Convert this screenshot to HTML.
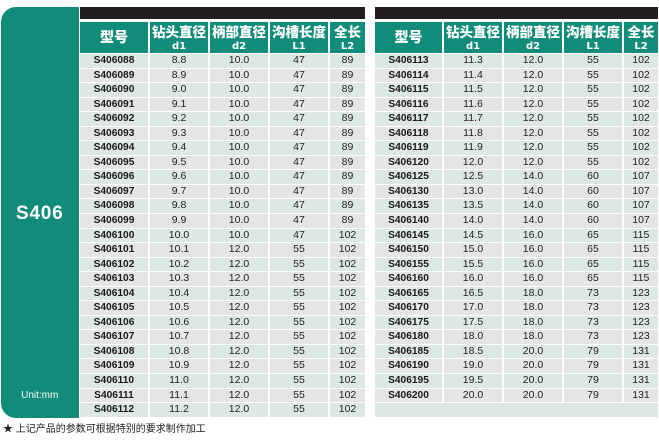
<!DOCTYPE html>
<html><head><meta charset="utf-8">
<style>
*{margin:0;padding:0;box-sizing:border-box}
html,body{width:659px;height:443px;background:#fff;overflow:hidden;position:relative;font-family:"Liberation Sans","Noto Sans CJK SC",sans-serif}
.panel{position:absolute;left:1px;top:7px;width:77.5px;height:411px;background:#128c7a;border-radius:15px 0 0 15px}
.panel .t{position:absolute;left:0;width:100%;top:196px;text-align:center;color:#fff;font-weight:bold;font-size:19px;letter-spacing:0.8px;line-height:22px}
.panel .u{position:absolute;left:0;width:100%;top:382px;text-align:center;color:#fff;font-size:10px;line-height:13px}
.bar{position:absolute;top:7.3px;height:12px;background:#221e1f}
.hdr{position:absolute;top:21.6px;height:31px;display:flex}
.hdr div{background:#128c7a;color:#fff;font-weight:bold;margin-right:2px;position:relative;height:31px;font-family:"Noto Sans CJK SC","WenQuanYi Zen Hei",sans-serif}
.hdr div:last-child{margin-right:0}
.hdr b{position:absolute;left:-5px;right:-5px;top:2px;text-align:center;font-size:13.5px;line-height:15px;display:block;white-space:nowrap}
.hdr i{position:absolute;left:0;right:0;top:20px;text-align:center;font-style:normal;font-size:10px;line-height:10px;display:block;font-family:"DejaVu Sans","Liberation Sans",sans-serif;font-weight:bold}
.hdr b.m{font-size:14px;top:0;line-height:31px}
.rows{position:absolute;top:54px;display:flex;flex-direction:column;gap:1px}
.r{height:13.56px;display:flex}
.r span{margin-right:2px;background:#dde8e3;text-align:center;font-size:10.5px;line-height:13.56px;color:#222;white-space:nowrap}
.r span:last-child{margin-right:0}
.r:nth-child(even) span{background:#e5e5e7}
.r span:first-child{font-weight:bold;font-size:10.2px;color:#1a1a1a}
.L span:nth-child(1){width:68px}.L span:nth-child(2),.L span:nth-child(3),.L span:nth-child(4){width:58px}.L span:nth-child(5){width:35px}
.R span:nth-child(1){width:67px}.R span:nth-child(2),.R span:nth-child(3),.R span:nth-child(4){width:58px}.R span:nth-child(5){width:34px}
.foot{position:absolute;left:3px;top:423px;font-size:10px;line-height:14px;color:#222;font-family:"Liberation Sans","Noto Sans CJK SC",sans-serif;white-space:nowrap}
</style></head><body>
<div class="panel"><div class="t">S406</div><div class="u">Unit:mm</div></div>

<div class="bar" style="left:80px;width:285px"></div>
<div class="bar" style="left:375px;width:283px"></div>

<div class="hdr L" style="left:80px">
<div style="width:68px"><b class="m">型号</b></div>
<div style="width:58px"><b>钻头直径</b><i>d1</i></div>
<div style="width:58px"><b>柄部直径</b><i>d2</i></div>
<div style="width:58px"><b>沟槽长度</b><i>L1</i></div>
<div style="width:35px"><b>全长</b><i>L2</i></div>
</div>
<div class="hdr R" style="left:375px">
<div style="width:67px"><b class="m">型号</b></div>
<div style="width:58px"><b>钻头直径</b><i>d1</i></div>
<div style="width:58px"><b>柄部直径</b><i>d2</i></div>
<div style="width:58px"><b>沟槽长度</b><i>L1</i></div>
<div style="width:34px"><b>全长</b><i>L2</i></div>
</div>

<div class="rows" style="left:80px">
<div class="r L"><span>S406088</span><span>8.8</span><span>10.0</span><span>47</span><span>89</span></div>
<div class="r L"><span>S406089</span><span>8.9</span><span>10.0</span><span>47</span><span>89</span></div>
<div class="r L"><span>S406090</span><span>9.0</span><span>10.0</span><span>47</span><span>89</span></div>
<div class="r L"><span>S406091</span><span>9.1</span><span>10.0</span><span>47</span><span>89</span></div>
<div class="r L"><span>S406092</span><span>9.2</span><span>10.0</span><span>47</span><span>89</span></div>
<div class="r L"><span>S406093</span><span>9.3</span><span>10.0</span><span>47</span><span>89</span></div>
<div class="r L"><span>S406094</span><span>9.4</span><span>10.0</span><span>47</span><span>89</span></div>
<div class="r L"><span>S406095</span><span>9.5</span><span>10.0</span><span>47</span><span>89</span></div>
<div class="r L"><span>S406096</span><span>9.6</span><span>10.0</span><span>47</span><span>89</span></div>
<div class="r L"><span>S406097</span><span>9.7</span><span>10.0</span><span>47</span><span>89</span></div>
<div class="r L"><span>S406098</span><span>9.8</span><span>10.0</span><span>47</span><span>89</span></div>
<div class="r L"><span>S406099</span><span>9.9</span><span>10.0</span><span>47</span><span>89</span></div>
<div class="r L"><span>S406100</span><span>10.0</span><span>10.0</span><span>47</span><span>102</span></div>
<div class="r L"><span>S406101</span><span>10.1</span><span>12.0</span><span>55</span><span>102</span></div>
<div class="r L"><span>S406102</span><span>10.2</span><span>12.0</span><span>55</span><span>102</span></div>
<div class="r L"><span>S406103</span><span>10.3</span><span>12.0</span><span>55</span><span>102</span></div>
<div class="r L"><span>S406104</span><span>10.4</span><span>12.0</span><span>55</span><span>102</span></div>
<div class="r L"><span>S406105</span><span>10.5</span><span>12.0</span><span>55</span><span>102</span></div>
<div class="r L"><span>S406106</span><span>10.6</span><span>12.0</span><span>55</span><span>102</span></div>
<div class="r L"><span>S406107</span><span>10.7</span><span>12.0</span><span>55</span><span>102</span></div>
<div class="r L"><span>S406108</span><span>10.8</span><span>12.0</span><span>55</span><span>102</span></div>
<div class="r L"><span>S406109</span><span>10.9</span><span>12.0</span><span>55</span><span>102</span></div>
<div class="r L"><span>S406110</span><span>11.0</span><span>12.0</span><span>55</span><span>102</span></div>
<div class="r L"><span>S406111</span><span>11.1</span><span>12.0</span><span>55</span><span>102</span></div>
<div class="r L"><span>S406112</span><span>11.2</span><span>12.0</span><span>55</span><span>102</span></div>
</div>

<div class="rows" style="left:375px">
<div class="r R"><span>S406113</span><span>11.3</span><span>12.0</span><span>55</span><span>102</span></div>
<div class="r R"><span>S406114</span><span>11.4</span><span>12.0</span><span>55</span><span>102</span></div>
<div class="r R"><span>S406115</span><span>11.5</span><span>12.0</span><span>55</span><span>102</span></div>
<div class="r R"><span>S406116</span><span>11.6</span><span>12.0</span><span>55</span><span>102</span></div>
<div class="r R"><span>S406117</span><span>11.7</span><span>12.0</span><span>55</span><span>102</span></div>
<div class="r R"><span>S406118</span><span>11.8</span><span>12.0</span><span>55</span><span>102</span></div>
<div class="r R"><span>S406119</span><span>11.9</span><span>12.0</span><span>55</span><span>102</span></div>
<div class="r R"><span>S406120</span><span>12.0</span><span>12.0</span><span>55</span><span>102</span></div>
<div class="r R"><span>S406125</span><span>12.5</span><span>14.0</span><span>60</span><span>107</span></div>
<div class="r R"><span>S406130</span><span>13.0</span><span>14.0</span><span>60</span><span>107</span></div>
<div class="r R"><span>S406135</span><span>13.5</span><span>14.0</span><span>60</span><span>107</span></div>
<div class="r R"><span>S406140</span><span>14.0</span><span>14.0</span><span>60</span><span>107</span></div>
<div class="r R"><span>S406145</span><span>14.5</span><span>16.0</span><span>65</span><span>115</span></div>
<div class="r R"><span>S406150</span><span>15.0</span><span>16.0</span><span>65</span><span>115</span></div>
<div class="r R"><span>S406155</span><span>15.5</span><span>16.0</span><span>65</span><span>115</span></div>
<div class="r R"><span>S406160</span><span>16.0</span><span>16.0</span><span>65</span><span>115</span></div>
<div class="r R"><span>S406165</span><span>16.5</span><span>18.0</span><span>73</span><span>123</span></div>
<div class="r R"><span>S406170</span><span>17.0</span><span>18.0</span><span>73</span><span>123</span></div>
<div class="r R"><span>S406175</span><span>17.5</span><span>18.0</span><span>73</span><span>123</span></div>
<div class="r R"><span>S406180</span><span>18.0</span><span>18.0</span><span>73</span><span>123</span></div>
<div class="r R"><span>S406185</span><span>18.5</span><span>20.0</span><span>79</span><span>131</span></div>
<div class="r R"><span>S406190</span><span>19.0</span><span>20.0</span><span>79</span><span>131</span></div>
<div class="r R"><span>S406195</span><span>19.5</span><span>20.0</span><span>79</span><span>131</span></div>
<div class="r R"><span>S406200</span><span>20.0</span><span>20.0</span><span>79</span><span>131</span></div>
<div class="r R"><span style="width:283px"></span></div>
</div>

<div class="foot">★ 上记产品的参数可根据特别的要求制作加工</div>
</body></html>
